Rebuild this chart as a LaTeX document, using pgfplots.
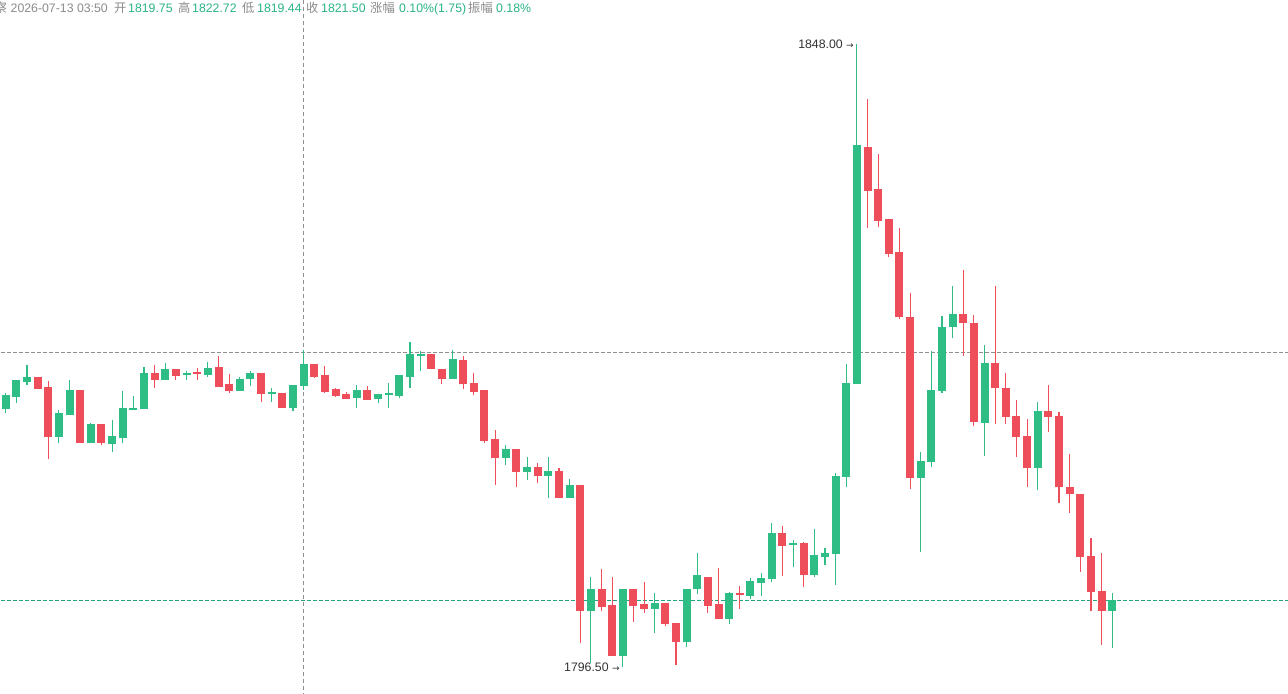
\documentclass[border=0pt]{standalone}
\usepackage{pgfplots}
\usepackage{pgfplotstable}
\pgfplotsset{compat=1.18}
\usepackage{fontspec}
\setmainfont{Liberation Sans}
\newfontfamily\cjk{Noto Sans CJK SC}
\newfontfamily\dejavu{DejaVu Sans}
\definecolor{cgreen}{HTML}{2EBD85}
\definecolor{cred}{HTML}{EE4D5A}
\definecolor{hgreen}{HTML}{2BB38A}
\definecolor{hgray}{HTML}{8C8C8C}
\definecolor{cross}{HTML}{8F8F8F}
\definecolor{pline}{HTML}{1FA67A}
\definecolor{anno}{HTML}{333333}

\pgfplotstableread{
i O C H L
0 1817.83 1818.91 1819.18 1817.53
1 1818.85 1820.15 1820.15 1818.36
2 1820.07 1820.40 1821.47 1819.82
5 1815.55 1817.42 1817.75 1815.00
6 1817.36 1819.32 1820.21 1817.36
8 1815.05 1816.51 1816.65 1815.05
10 1814.97 1815.52 1816.93 1814.28
11 1815.46 1817.83 1819.35 1815.00
12 1817.78 1817.89 1818.91 1817.78
13 1817.83 1820.73 1821.28 1817.83
15 1820.26 1821.12 1821.66 1820.26
17 1820.62 1820.75 1820.95 1820.26
19 1820.67 1821.20 1821.72 1820.50
22 1819.35 1820.29 1820.48 1819.35
23 1820.29 1820.73 1820.95 1819.76
25 1819.07 1819.18 1819.55 1818.44
27 1817.94 1819.74 1819.84 1817.69
28 1819.75 1821.50 1822.72 1819.44
33 1818.77 1819.32 1819.82 1817.89
35 1818.69 1818.99 1819.07 1818.31
36 1818.99 1819.07 1820.01 1817.89
37 1818.93 1820.56 1820.56 1818.72
38 1820.50 1822.30 1823.40 1819.60
39 1822.19 1822.30 1822.65 1821.00
42 1820.34 1821.88 1822.71 1820.34
47 1813.81 1814.45 1814.86 1813.21
49 1812.65 1812.96 1813.89 1811.97
51 1812.32 1812.63 1813.84 1810.50
53 1810.50 1811.47 1812.02 1810.50
55 1801.16 1802.88 1803.93 1796.82
58 1797.45 1802.88 1802.88 1796.50
61 1801.28 1801.78 1802.60 1799.35
64 1798.60 1802.93 1802.93 1798.19
65 1802.93 1804.03 1805.91 1802.52
68 1800.50 1802.55 1802.74 1800.07
70 1802.38 1803.54 1803.84 1802.13
71 1803.48 1803.84 1804.26 1802.40
72 1803.79 1807.50 1808.44 1803.51
74 1806.60 1806.70 1807.01 1804.75
76 1804.12 1805.69 1807.89 1803.98
77 1805.63 1805.85 1806.32 1804.94
78 1805.83 1812.24 1812.52 1803.29
79 1812.24 1819.90 1821.55 1811.41
80 1819.90 1839.57 1848.00 1819.90
86 1812.16 1813.45 1814.31 1806.04
87 1813.45 1819.32 1822.63 1813.02
88 1819.32 1824.59 1825.52 1819.18
89 1824.59 1825.60 1828.00 1823.68
92 1816.70 1821.61 1823.12 1813.95
97 1812.98 1817.64 1818.41 1811.14
104 1801.16 1801.97 1802.60 1798.06
}\upcandles

\pgfplotstableread{
i O C H L
3 1820.40 1819.51 1820.40 1819.51
4 1819.57 1815.55 1820.15 1813.68
7 1819.32 1815.05 1819.32 1815.00
9 1816.51 1815.00 1816.60 1814.83
14 1820.73 1820.26 1821.47 1819.60
16 1821.12 1820.59 1821.12 1820.26
18 1820.81 1820.70 1821.25 1820.26
20 1821.22 1819.68 1822.21 1819.68
21 1819.82 1819.35 1820.73 1819.13
24 1820.73 1819.05 1820.73 1818.44
26 1819.07 1817.94 1819.07 1817.94
29 1821.50 1820.50 1821.50 1820.37
30 1820.56 1819.26 1821.39 1819.13
31 1819.40 1818.93 1819.55 1818.85
32 1818.99 1818.69 1819.26 1818.69
34 1819.32 1818.58 1819.74 1818.58
40 1822.30 1821.12 1822.30 1821.12
41 1821.12 1820.34 1821.12 1819.90
43 1821.80 1819.88 1822.21 1819.46
44 1819.90 1819.24 1820.83 1818.97
45 1819.35 1815.21 1819.35 1815.05
46 1815.27 1813.81 1816.10 1811.55
48 1814.45 1812.65 1814.45 1811.36
50 1812.96 1812.32 1813.40 1811.74
52 1812.63 1810.50 1812.98 1810.50
54 1811.47 1801.16 1811.47 1798.52
56 1802.88 1801.50 1804.64 1801.16
57 1801.55 1797.45 1803.98 1797.45
59 1802.88 1801.58 1802.88 1800.26
60 1801.64 1801.28 1803.56 1801.00
62 1801.78 1800.07 1801.78 1799.93
63 1800.12 1798.60 1800.12 1796.68
66 1803.93 1801.58 1803.93 1800.95
67 1801.64 1800.50 1804.67 1800.50
69 1802.55 1802.44 1803.21 1801.28
73 1807.50 1806.54 1808.19 1804.06
75 1806.70 1804.12 1806.84 1803.15
81 1839.46 1835.88 1843.43 1832.82
82 1835.99 1833.40 1838.91 1832.90
83 1833.45 1830.64 1833.45 1830.42
84 1830.75 1825.41 1832.79 1825.25
85 1825.41 1812.16 1827.45 1811.20
90 1825.60 1824.92 1829.32 1822.21
91 1824.92 1816.79 1825.60 1816.43
93 1821.61 1819.55 1828.00 1816.60
94 1819.55 1817.20 1820.78 1816.60
95 1817.20 1815.55 1818.58 1813.89
96 1815.55 1812.98 1816.98 1811.41
98 1817.64 1817.20 1819.82 1815.96
99 1817.20 1811.36 1817.61 1810.04
100 1811.36 1810.79 1814.12 1809.21
101 1810.79 1805.63 1810.79 1804.39
102 1805.63 1802.74 1807.15 1801.16
103 1802.74 1801.16 1805.96 1798.33
}\downcandles

\begin{document}
\begin{tikzpicture}
\path[use as bounding box] (0,0) rectangle (1288bp,694bp);
\fill[white] (0,0) rectangle (1288bp,694bp);
\begin{axis}[
  at={(0,0)}, anchor=south west,
  scale only axis, width=1288bp, height=694bp,
  xmin=-0.536, xmax=120.52, ymin=1794.28, ymax=1851.64,
  hide axis,
]
% crosshair and current price lines
\addplot[cross, line width=0.9bp, dash pattern=on 3.5bp off 2.5bp] coordinates {(-1,1822.55) (122,1822.55)};
\addplot[pline, line width=1bp, dash pattern=on 3.5bp off 2.5bp] coordinates {(-1,1801.97) (122,1801.97)};
\addplot[cross, line width=0.9bp, dash pattern=on 4bp off 3bp] coordinates {(28,1790) (28,1855)};
% wicks
\addplot[draw=none, mark=none, error bars/.cd, y dir=plus, y explicit, error mark=none,
  error bar style={line width=1.1bp, draw=cgreen, solid}]
  table[x=i, y=L, y error plus expr=\thisrow{H}-\thisrow{L}] {\upcandles};
\addplot[draw=none, mark=none, error bars/.cd, y dir=plus, y explicit, error mark=none,
  error bar style={line width=1.1bp, draw=cred, solid}]
  table[x=i, y=L, y error plus expr=\thisrow{H}-\thisrow{L}] {\downcandles};
% bodies
\addplot[draw=none, mark=none, error bars/.cd, y dir=plus, y explicit, error mark=none,
  error bar style={line width=8bp, draw=cgreen, solid}]
  table[x=i, y=O, y error plus expr=\thisrow{C}-\thisrow{O}+0.06] {\upcandles};
\addplot[draw=none, mark=none, error bars/.cd, y dir=plus, y explicit, error mark=none,
  error bar style={line width=8bp, draw=cred, solid}]
  table[x=i, y=C, y error plus expr=\thisrow{O}-\thisrow{C}+0.06] {\downcandles};
% extreme labels
\node[anchor=east, inner sep=0, font=\fontsize{12.3bp}{14bp}\selectfont, text=anno, xshift=-3bp]
  at (axis cs:80,1848) {1848.00 {\dejavu\fontsize{9bp}{10bp}\selectfont →}};
\node[anchor=east, inner sep=0, font=\fontsize{12.3bp}{14bp}\selectfont, text=anno, xshift=-3bp]
  at (axis cs:58,1796.50) {1796.50 {\dejavu\fontsize{9bp}{10bp}\selectfont →}};
\end{axis}
% header
\begin{scope}[every node/.style={anchor=base west, inner sep=0, font=\fontsize{12.3bp}{14bp}\selectfont}]
\node[text=hgray] at (-5.5bp,681.5bp) {\cjk 察};
\node[text=hgray] at (10.5bp,681.5bp) {2026-07-13 03:50};
\node[text=hgray] at (114bp,681.5bp) {\cjk 开};
\node[text=hgreen] at (128bp,681.5bp) {1819.75};
\node[text=hgray] at (178bp,681.5bp) {\cjk 高};
\node[text=hgreen] at (192bp,681.5bp) {1822.72};
\node[text=hgray] at (242bp,681.5bp) {\cjk 低};
\node[text=hgreen] at (257bp,681.5bp) {1819.44};
\node[text=hgray] at (306bp,681.5bp) {\cjk 收};
\node[text=hgreen] at (321bp,681.5bp) {1821.50};
\node[text=hgray] at (370bp,681.5bp) {\cjk 涨幅};
\node[text=hgreen] at (399bp,681.5bp) {0.10\%(1.75)};
\node[text=hgray] at (468bp,681.5bp) {\cjk 振幅};
\node[text=hgreen] at (496bp,681.5bp) {0.18\%};
\end{scope}
\end{tikzpicture}
\end{document}
